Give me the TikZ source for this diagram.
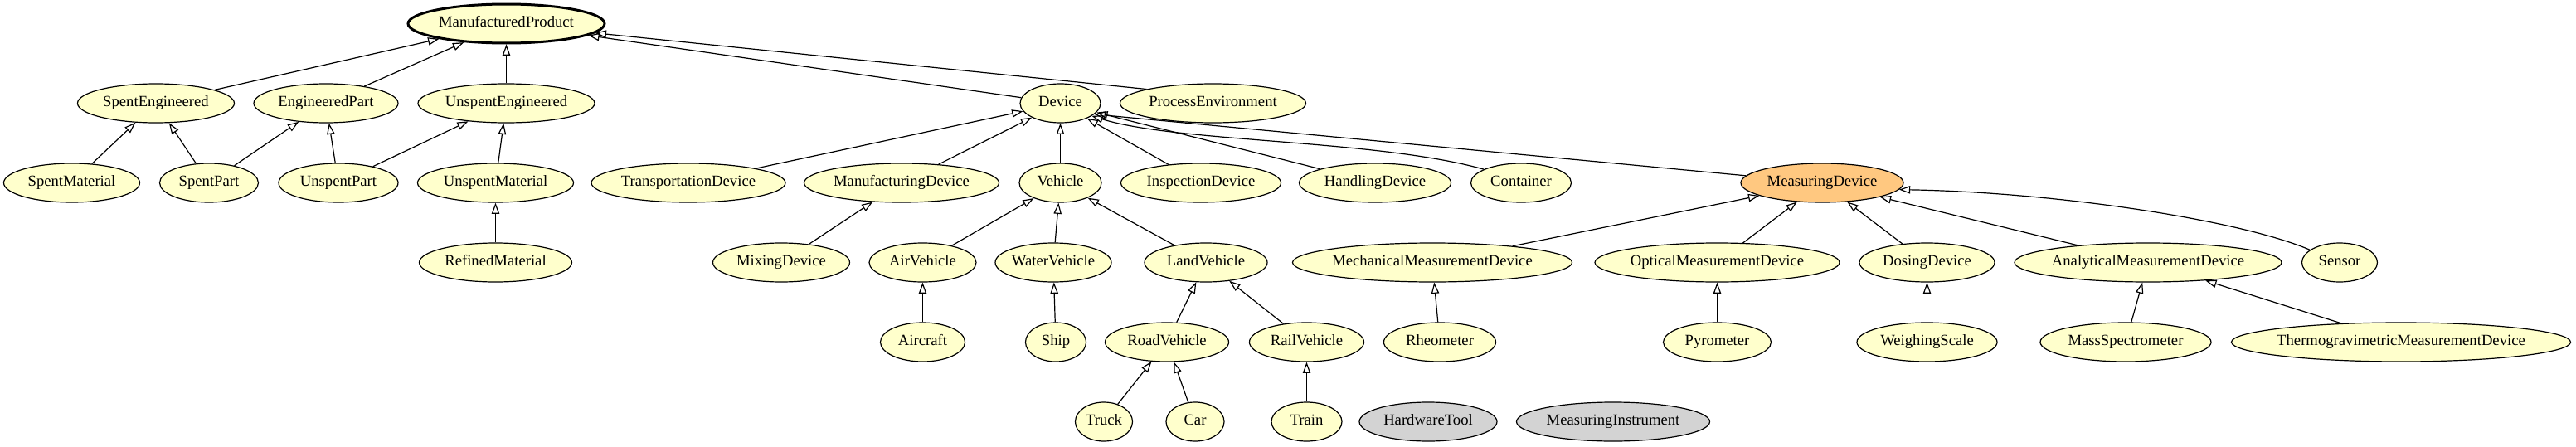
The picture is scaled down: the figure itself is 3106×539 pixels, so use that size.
\documentclass[tikz,border=0pt]{standalone}
\usepackage{fontspec}
\setmainfont{Liberation Serif}
\usetikzlibrary{arrows.meta,shapes.geometric}
\definecolor{nodeyellow}{RGB}{255,255,204}
\definecolor{nodeorange}{RGB}{255,200,128}
\definecolor{nodegrey}{RGB}{211,211,211}
\tikzset{
  cls/.style={ellipse, draw=black, line width=0.9pt, fill=nodeyellow, inner sep=0pt,
    minimum height=35.25pt, text height=9.6pt, text depth=3pt,
    font=\fontsize{14}{16}\selectfont,
    execute at begin node={\hbox to 0pt\bgroup\hss},
    execute at end node={\hss\egroup}},
  nw/.style={minimum width=#1*0.75pt},
  root/.style={line width=2.25pt},
  focus/.style={fill=nodeorange},
  lonely/.style={fill=nodegrey},
  isa/.style={draw=black, line width=0.9pt, -{Triangle[open, length=10pt, width=7pt, line width=0.9pt]}},
}
\begin{document}
\begin{tikzpicture}[x=0.75pt, y=-0.75pt]
\useasboundingbox (0,0) rectangle (3106,539);
\def\ra{28.5}\def\rb{124.5}\def\rc{220.5}\def\rd{316.5}\def\re{412.5}\def\rf{508.5}
% row 0
\node[cls, nw=237, root] (MP) at (610.5,\ra) {ManufacturedProduct};
% row 1
\node[cls, nw=189] (SE) at (188,\rb) {SpentEngineered};
\node[cls, nw=174] (EP) at (393,\rb) {EngineeredPart};
\node[cls, nw=213] (UE) at (610.5,\rb) {UnspentEngineered};
\node[cls, nw=97] (Dev) at (1278.5,\rb) {Device};
\node[cls, nw=224] (PE) at (1462.5,\rb) {ProcessEnvironment};
% row 2
\node[cls, nw=164] (SM) at (86.5,\rc) {SpentMaterial};
\node[cls, nw=119] (SP) at (252,\rc) {SpentPart};
\node[cls, nw=144] (UP) at (408,\rc) {UnspentPart};
\node[cls, nw=188] (UM) at (597.5,\rc) {UnspentMaterial};
\node[cls, nw=234] (TD) at (830,\rc) {TransportationDevice};
\node[cls, nw=235] (MfD) at (1087,\rc) {ManufacturingDevice};
\node[cls, nw=99] (Veh) at (1278.5,\rc) {Vehicle};
\node[cls, nw=193] (ID) at (1448,\rc) {InspectionDevice};
\node[cls, nw=183] (HD) at (1658,\rc) {HandlingDevice};
\node[cls, nw=121] (Cont) at (1834,\rc) {Container};
\node[cls, nw=196, focus] (MD) at (2197,\rc) {MeasuringDevice};
% row 3
\node[cls, nw=184] (RM) at (597.5,\rd) {RefinedMaterial};
\node[cls, nw=165] (MixD) at (942,\rd) {MixingDevice};
\node[cls, nw=129] (AirV) at (1112.5,\rd) {AirVehicle};
\node[cls, nw=140] (WV) at (1270,\rd) {WaterVehicle};
\node[cls, nw=148] (LV) at (1454,\rd) {LandVehicle};
\node[cls, nw=337] (MMD) at (1727,\rd) {MechanicalMeasurementDevice};
\node[cls, nw=295] (OMD) at (2070.5,\rd) {OpticalMeasurementDevice};
\node[cls, nw=163] (DD) at (2323.5,\rd) {DosingDevice};
\node[cls, nw=322] (AMD) at (2590,\rd) {AnalyticalMeasurementDevice};
\node[cls, nw=91] (Sen) at (2821,\rd) {Sensor};
% row 4
\node[cls, nw=102] (Air) at (1112.5,\re) {Aircraft};
\node[cls, nw=73] (Ship) at (1273,\re) {Ship};
\node[cls, nw=149] (RV) at (1407,\re) {RoadVehicle};
\node[cls, nw=138] (RailV) at (1575.5,\re) {RailVehicle};
\node[cls, nw=135] (Rheo) at (1736,\re) {Rheometer};
\node[cls, nw=130] (Pyro) at (2070.5,\re) {Pyrometer};
\node[cls, nw=169] (WS) at (2323.5,\re) {WeighingScale};
\node[cls, nw=206] (MS) at (2563,\re) {MassSpectrometer};
\node[cls, nw=409] (TG) at (2895,\re) {ThermogravimetricMeasurementDevice};
% row 5
\node[cls, nw=69] (Truck) at (1331,\rf) {Truck};
\node[cls, nw=70] (Car) at (1441,\rf) {Car};
\node[cls, nw=85] (Train) at (1575.5,\rf) {Train};
\node[cls, nw=166, lonely] (HT) at (1722,\rf) {HardwareTool};
\node[cls, nw=233, lonely] (MI) at (1945,\rf) {MeasuringInstrument};
% edges
\draw[isa] (SE) -- (MP);
\draw[isa] (EP) -- (MP);
\draw[isa] (UE) -- (MP);
\draw[isa] (Dev) -- (MP);
\draw[isa] (PE.168) -- (MP.-6);
\draw[isa] (SM) -- (SE);
\draw[isa] (SP) -- (SE);
\draw[isa] (SP) -- (EP);
\draw[isa] (UP) -- (EP);
\draw[isa] (UP) -- (UE);
\draw[isa] (UM) -- (UE);
\draw[isa] (RM) -- (UM);
\draw[isa] (TD) -- (Dev);
\draw[isa] (MfD) -- (Dev);
\draw[isa] (Veh) -- (Dev);
\draw[isa] (ID) -- (Dev);
\draw[isa] (HD) -- (Dev);
\draw[isa] (Cont.160) .. controls (1660,168) and (1420,172) .. (Dev.-22);
\draw[isa] (MD) -- (Dev.-18);
\draw[isa] (MixD) -- (MfD);
\draw[isa] (AirV) -- (Veh);
\draw[isa] (WV) -- (Veh);
\draw[isa] (LV) -- (Veh);
\draw[isa] (Air) -- (AirV);
\draw[isa] (Ship) -- (WV);
\draw[isa] (RV) -- (LV);
\draw[isa] (RailV) -- (LV);
\draw[isa] (Truck) -- (RV);
\draw[isa] (Car) -- (RV);
\draw[isa] (Train) -- (RailV);
\draw[isa] (MMD) -- (MD);
\draw[isa] (OMD) -- (MD);
\draw[isa] (DD) -- (MD);
\draw[isa] (AMD) -- (MD);
\draw[isa] (Sen.157) .. controls (2700,265) and (2480,232) .. (MD.-5);
\draw[isa] (Rheo) -- (MMD);
\draw[isa] (Pyro) -- (OMD);
\draw[isa] (WS) -- (DD);
\draw[isa] (MS) -- (AMD);
\draw[isa] (TG) -- (AMD);
\end{tikzpicture}
\end{document}
